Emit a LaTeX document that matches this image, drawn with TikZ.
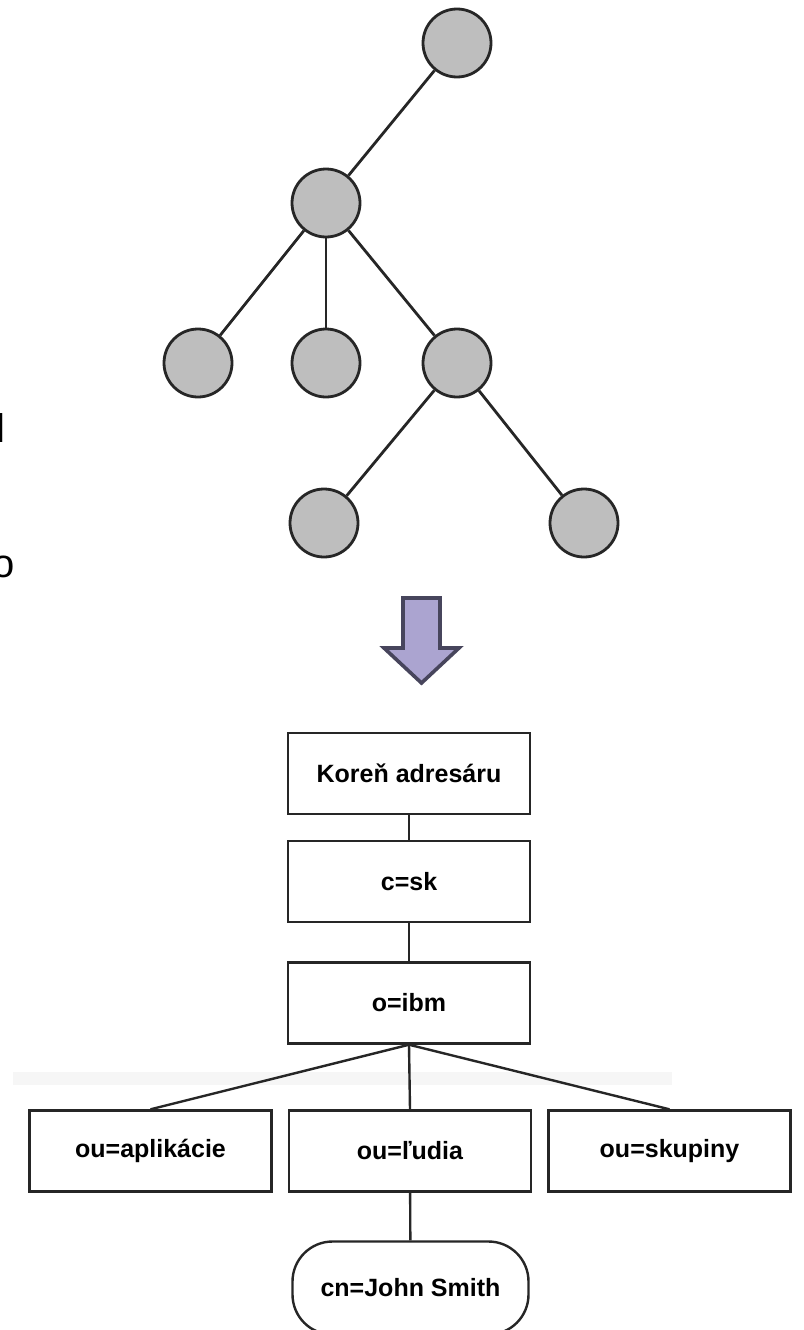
\documentclass[tikz,border=0pt]{standalone}
\usepackage{fontspec}
\setmainfont{Liberation Sans}
\definecolor{vertexfill}{HTML}{BEBEBE}
\definecolor{inkline}{HTML}{262626}
\definecolor{arrowfill}{HTML}{ABA4D0}
\definecolor{arrowline}{HTML}{47455C}
\definecolor{bandgray}{HTML}{F6F6F6}
\begin{document}
\begin{tikzpicture}[x=1pt,y=-1pt,
  vertex/.style={circle, draw=inkline, fill=vertexfill, line width=2.8pt,
    minimum size=68pt, inner sep=0pt},
  edge/.style={draw=inkline, line width=2.8pt},
  link/.style={draw=inkline, line width=2.4pt},
  entry/.style={draw=inkline, line width=2.4pt, fill=white, inner sep=0pt,
    minimum width=242pt, minimum height=81pt,
    font=\bfseries\fontsize{25}{28}\selectfont},
  person/.style={entry, rounded corners=40pt, minimum width=236pt, minimum height=93pt},
  stray/.style={anchor=base west, inner sep=0pt, font=\fontsize{40}{48}\selectfont}]

\path[use as bounding box] (0,0) rectangle (803,1330);
\clip (0,0) rectangle (803,1330);
\fill[white] (0,0) rectangle (803,1330);

% clipped letters at the left margin
\node[stray] (cutl) at (-4,442) {l};
\node[stray] (cuto) at (-7.6,577) {o};

% abstract tree
\node[vertex] (t0) at (457,43) {};
\node[vertex] (t1) at (326,203) {};
\node[vertex] (t2) at (198,363) {};
\node[vertex] (t3) at (326,363) {};
\node[vertex] (t4) at (457,363) {};
\node[vertex] (t5) at (324,523) {};
\node[vertex] (t6) at (584,523) {};
\draw[edge] (t0) -- (t1);
\draw[edge] (t1) -- (t2);
\draw[edge] (t1) -- (t3);
\draw[edge] (t1) -- (t4);
\draw[edge] (t4) -- (t5);
\draw[edge] (t4) -- (t6);

% block arrow
\filldraw[fill=arrowfill, draw=arrowline, line width=3.6pt, line join=miter]
  (403,598) -- (440,598) -- (440,648) -- (459,648) -- (421.5,683)
  -- (384,648) -- (403,648) -- cycle;

% faint band behind the branch lines
\fill[bandgray] (13,1072) rectangle (672,1085);

% directory tree
\node[entry] (root) at (409,773.5) {Koreň adresáru};
\node[entry] (csk)  at (409,881.5) {c=sk};
\node[entry] (oibm) at (409,1003) {o=ibm};
\node[entry] (apl)  at (150.5,1151) {ou=aplikácie};
\node[entry] (lud)  at (410,1151) {ou=ľudia};
\node[entry] (sku)  at (669.5,1151) {ou=skupiny};
\node[person] (john) at (410.5,1288) {cn=John Smith};

\draw[link] (root) -- (csk);
\draw[link] (csk) -- (oibm);
\draw[link] (oibm.south) -- (apl.north);
\draw[link] (oibm.south) -- (lud.north);
\draw[link] (oibm.south) -- (sku.north);
\draw[link] (lud) -- (john);
\end{tikzpicture}
\end{document}
